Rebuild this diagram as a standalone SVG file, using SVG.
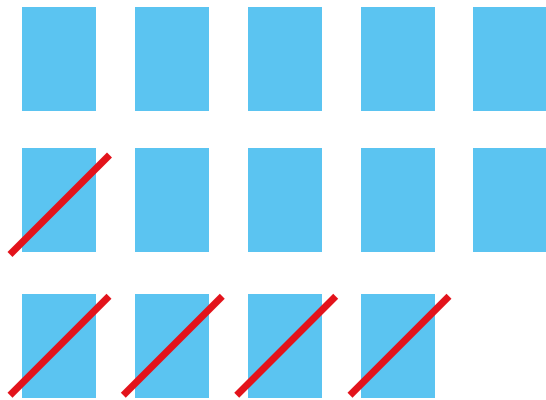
<svg xmlns="http://www.w3.org/2000/svg" width="546" height="400" viewBox="0 0 546 400">
<style>
.b{fill:#5BC4F1}
.x{stroke:#E3131B;stroke-width:7;fill:none}
</style>
<rect width="546" height="400" fill="#fff"/>
<g id="r1c1"><rect class="b" x="22" y="7" width="74" height="104"/></g>
<g id="r1c2"><rect class="b" x="135" y="7" width="74" height="104"/></g>
<g id="r1c3"><rect class="b" x="248" y="7" width="74" height="104"/></g>
<g id="r1c4"><rect class="b" x="361" y="7" width="74" height="104"/></g>
<g id="r1c5"><rect class="b" x="473" y="7" width="74" height="104"/></g>
<g id="r2c1"><rect class="b" x="22" y="148" width="74" height="104"/></g>
<g id="r2c2"><rect class="b" x="135" y="148" width="74" height="104"/></g>
<g id="r2c3"><rect class="b" x="248" y="148" width="74" height="104"/></g>
<g id="r2c4"><rect class="b" x="361" y="148" width="74" height="104"/></g>
<g id="r2c5"><rect class="b" x="473" y="148" width="74" height="104"/></g>
<g id="r3c1"><rect class="b" x="22" y="294" width="74" height="104"/></g>
<g id="r3c2"><rect class="b" x="135" y="294" width="74" height="104"/></g>
<g id="r3c3"><rect class="b" x="248" y="294" width="74" height="104"/></g>
<g id="r3c4"><rect class="b" x="361" y="294" width="74" height="104"/></g>
<g id="strikes">
<line class="x" x1="10" y1="254.5" x2="109.5" y2="155"/>
<line class="x" x1="10" y1="395.3" x2="109" y2="296.3"/>
<line class="x" x1="123.3" y1="395.3" x2="222.3" y2="296.3"/>
<line class="x" x1="236.7" y1="395.3" x2="335.7" y2="296.3"/>
<line class="x" x1="350" y1="395.3" x2="449" y2="296.3"/>
</g>
</svg>
